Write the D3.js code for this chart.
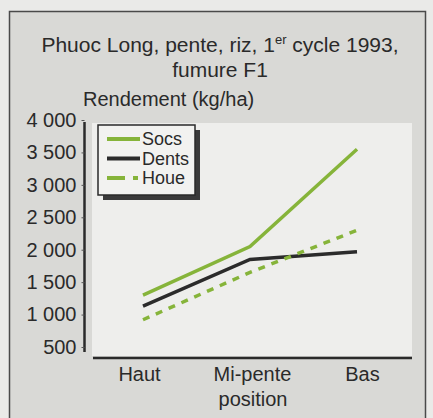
<!DOCTYPE html>
<html>
<head>
<meta charset="utf-8">
<script src="https://cdn.jsdelivr.net/npm/d3@7"></script>
<style>
  body { margin: 0; background: #eaeae8; }
  text { font-family: "Liberation Sans", Arial, sans-serif; fill: #2a2a2a; }
</style>
</head>
<body>
<svg id="chart" width="433" height="418"></svg>
<script>
var positions = ["Haut", "Mi-pente", "Bas"];
var socs = [1300, 2050, 3550];
var dents = [1130, 1850, 1970];
var houe = [920, 1650, 2300];
var yTicks = [500, 1000, 1500, 2000, 2500, 3000, 3500, 4000];
var seriesNames = ["Socs", "Dents", "Houe"];

var svg = d3.select("#chart");

// outer frame
svg.append("rect")
    .attr("x", 9.5).attr("y", 11.5)
    .attr("width", 416).attr("height", 420)
    .attr("fill", "#d9d9d6")
    .attr("stroke", "#4a4a4a")
    .attr("stroke-width", 1.5);

// light plot background
svg.append("rect")
    .attr("x", 92).attr("y", 123)
    .attr("width", 320).attr("height", 233)
    .attr("fill", "#eeeeec");

var x = d3.scalePoint()
    .domain(positions)
    .range([143, 357]);

var y = d3.scaleLinear()
    .domain([500, 4000])
    .range([347, 120]);

// title
svg.append("text")
    .attr("x", 220).attr("y", 52)
    .attr("text-anchor", "middle")
    .attr("font-size", "21px")
    .html('Phuoc Long, pente, riz, 1<tspan font-size="13px" dy="-8">er</tspan><tspan dy="8"> cycle 1993,</tspan>');
svg.append("text")
    .attr("x", 220).attr("y", 77)
    .attr("text-anchor", "middle")
    .attr("font-size", "21px")
    .text("fumure F1");
svg.append("text")
    .attr("x", 83).attr("y", 106)
    .attr("font-size", "20px")
    .text("Rendement (kg/ha)");

// y axis
var yAxis = svg.append("g")
    .attr("transform", "translate(84.5,0)")
    .call(d3.axisLeft(y).tickValues(yTicks).tickSize(3).tickPadding(5)
      .tickFormat(function(d) { return d3.format(",")(d).replace(",", " "); }));
yAxis.select(".domain").attr("stroke", "#2a2a2a").attr("stroke-width", 2.5)
    .attr("d", "M0," + (y(4000) + 2) + "V" + (y(500) + 5));
yAxis.selectAll("line").attr("stroke", "#555");
yAxis.selectAll("text").attr("font-size", "20px").attr("font-family", "Liberation Sans, Arial, sans-serif").attr("fill", "#2a2a2a");

// x axis
var xAxis = svg.append("g")
    .attr("transform", "translate(0,358)")
    .call(d3.axisBottom(x).tickSize(0).tickPadding(9));
xAxis.select(".domain").attr("stroke", "#2a2a2a").attr("stroke-width", 2.5)
    .attr("d", "M93,0H412");
xAxis.selectAll("text").attr("font-size", "20px").attr("font-family", "Liberation Sans, Arial, sans-serif").attr("fill", "#2a2a2a")
    .attr("dx", function(d, i) { return [-4, 2, 5][i]; });
svg.append("text")
    .attr("x", 253).attr("y", 406)
    .attr("text-anchor", "middle")
    .attr("font-size", "20px")
    .text("position");

// lines
var green = "#86b43a";
var dark = "#2b2b2b";
var styles = [
  { values: socs, color: green, dash: null },
  { values: dents, color: dark, dash: null },
  { values: houe, color: green, dash: "7,7" }
];

var line = d3.line()
    .x(function(d, i) { return x(positions[i]); })
    .y(function(d) { return y(d); });

styles.forEach(function(s) {
  svg.append("path")
      .datum(s.values)
      .attr("d", line)
      .attr("fill", "none")
      .attr("stroke", s.color)
      .attr("stroke-width", 3.5)
      .attr("stroke-dasharray", s.dash);
});

// legend
var lg = svg.append("g").attr("transform", "translate(98,125)");
lg.append("rect")
    .attr("x", 5).attr("y", 5)
    .attr("width", 97).attr("height", 70)
    .attr("fill", "#3a3a3a");
lg.append("rect")
    .attr("x", 0).attr("y", 0)
    .attr("width", 97).attr("height", 70)
    .attr("fill", "#f2f2f0")
    .attr("stroke", "#2a2a2a")
    .attr("stroke-width", 1.5);

var items = lg.selectAll("g.item")
    .data(seriesNames)
    .enter().append("g")
    .attr("transform", function(d, i) { return "translate(0," + (14 + i * 19.5) + ")"; });
items.append("line")
    .attr("x1", 9).attr("x2", 42)
    .attr("stroke", function(d, i) { return styles[i].color; })
    .attr("stroke-width", 4)
    .attr("stroke-dasharray", function(d, i) { return styles[i].dash ? "18,8,5,20" : null; });
items.append("text")
    .attr("x", 44).attr("dy", "0.35em")
    .attr("font-size", "18px")
    .text(function(d) { return d; });
</script>
</body>
</html>
